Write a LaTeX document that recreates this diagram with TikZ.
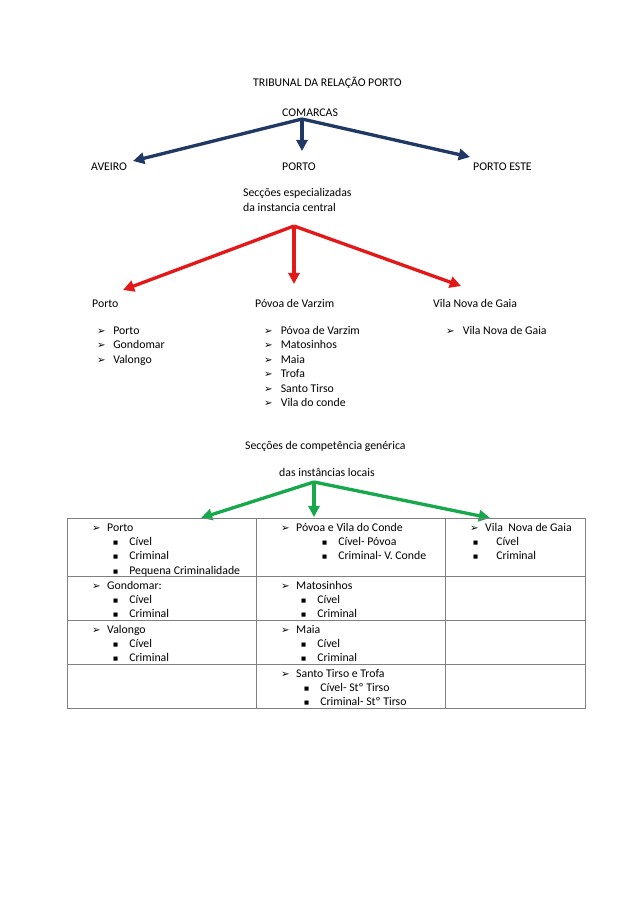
\documentclass[tikz,border=0pt]{standalone}
\usepackage{fontspec}
\setmainfont{Carlito}
\newfontfamily\dingfont{DejaVu Sans}
\usetikzlibrary{arrows.meta}
\definecolor{navy}{HTML}{1F3864}
\definecolor{rubro}{HTML}{E31919}
\definecolor{verde}{HTML}{17A84B}
\definecolor{grade}{HTML}{808080}
% list markers
\newcommand{\seta}[2][14pt]{\makebox[#1][l]{\raisebox{-0.3pt}{\dingfont\fontsize{9.5}{9.5}\selectfont ➢}}#2}
\newcommand{\quadr}[2][15pt]{\makebox[#1][l]{\raisebox{1pt}{\dingfont\fontsize{5}{5}\selectfont ■}}#2}

\begin{document}
\begin{tikzpicture}[
  x=0.9331pt,y=-0.9331pt,
  font=\fontsize{11}{13.4}\selectfont,
  lbl/.style={anchor=base west,inner sep=0pt},
  ramo/.style={line width=3.1pt,-{Triangle[length=10.5pt,width=10.5pt]}},
]
\useasboundingbox (0,0) rectangle (638,903);
% comarcas
\node[lbl] (trib) at (253,86) {TRIBUNAL DA RELAÇÃO PORTO};
\node[lbl] (com) at (282,116) {COMARCAS};
\node[lbl] (av) at (91,170) {AVEIRO};
\node[lbl] (po) at (282,170) {PORTO};
\node[lbl] (pe) at (473,170) {PORTO ESTE};
\coordinate (hubA) at (302,119);
\coordinate (tAv) at (133,161);
\coordinate (tPo) at (302,151);
\coordinate (tPe) at (470,157);
\foreach \t in {tAv,tPo,tPe}
  \draw[ramo,navy] (hubA) -- (\t);
% instancia central
\node[lbl] (esp1) at (243,196) {Secções especializadas};
\node[lbl] (esp2) at (243,211) {da instancia central};
\node[lbl] (sPo) at (92,307) {Porto};
\node[lbl] (sPv) at (255,307) {Póvoa de Varzim};
\node[lbl] (sGa) at (433,307) {Vila Nova de Gaia};
\coordinate (hubB) at (294,226);
\coordinate (tPo2) at (123,290);
\coordinate (tPv) at (294,284);
\coordinate (tGa) at (461,286);
\foreach \t in {tPo2,tPv,tGa}
  \draw[ramo,rubro] (hubB) -- (\t);
\foreach \s [count=\i] in {Porto,Gondomar,Valongo}
  \node[lbl] (lPo\i) at (97,334+14.5*\i-14.5) {\seta[15pt]{\s}};
\foreach \s [count=\i] in {Póvoa de Varzim,Matosinhos,Maia,Trofa,Santo Tirso,Vila do conde}
  \node[lbl] (lPv\i) at (264,334+14.5*\i-14.5) {\seta[15.5pt]{\s}};
\node[lbl] (lGa1) at (446,334) {\seta[15.5pt]{Vila Nova de Gaia}};
% instancias locais
\node[lbl] (gen1) at (245,449) {Secções de competência genérica};
\node[lbl] (gen2) at (279,476) {das instâncias locais};
\coordinate (hubC) at (314,482);
\coordinate (tC1) at (201,518);
\coordinate (tC2) at (314,517);
\coordinate (tC3) at (490,518);
\foreach \t in {tC1,tC2,tC3}
  \draw[ramo,verde] (hubC) -- (\t);
% table
\draw[grade,line width=0.6pt] (67,518) rectangle (585,708);
\foreach \y in {576,620,664}
  \draw[grade,line width=0.6pt] (67,\y) -- (585,\y);
\foreach \x in {256,445}
  \draw[grade,line width=0.6pt] (\x,518) -- (\x,708);
% row 1
\node[lbl] (c11) at (92,531) {\seta{Porto}};
\foreach \s [count=\i] in {Cível,Criminal,Pequena Criminalidade}
  \node[lbl] (c11s\i) at (113,531+14.4*\i) {\quadr{\s}};
\node[lbl] (c12) at (281,531) {\seta{Póvoa e Vila do Conde}};
\foreach \s [count=\i] in {Cível- Póvoa,Criminal- V. Conde}
  \node[lbl] (c12s\i) at (322,531+14.4*\i) {\quadr{\s}};
\node[lbl] (c13) at (470,531) {\seta{Vila\ \ Nova de Gaia}};
\foreach \s [count=\i] in {Cível,Criminal}
  \node[lbl] (c13s\i) at (473,531+14.4*\i) {\quadr[21.5pt]{\s}};
% row 2
\node[lbl] (c21) at (92,589) {\seta{Gondomar:}};
\foreach \s [count=\i] in {Cível,Criminal}
  \node[lbl] (c21s\i) at (113,589+14.4*\i) {\quadr{\s}};
\node[lbl] (c22) at (281,589) {\seta{Matosinhos}};
\foreach \s [count=\i] in {Cível,Criminal}
  \node[lbl] (c22s\i) at (301,589+14.4*\i) {\quadr{\s}};
% row 3
\node[lbl] (c31) at (92,633) {\seta{Valongo}};
\foreach \s [count=\i] in {Cível,Criminal}
  \node[lbl] (c31s\i) at (113,633+14.4*\i) {\quadr{\s}};
\node[lbl] (c32) at (281,633) {\seta{Maia}};
\foreach \s [count=\i] in {Cível,Criminal}
  \node[lbl] (c32s\i) at (301,633+14.4*\i) {\quadr{\s}};
% row 4
\node[lbl] (c42) at (281,677) {\seta{Santo Tirso e Trofa}};
\foreach \s [count=\i] in {Cível- Stº Tirso,Criminal- Stº Tirso}
  \node[lbl] (c42s\i) at (304,677+14.4*\i) {\quadr{\s}};
\end{tikzpicture}
\end{document}
